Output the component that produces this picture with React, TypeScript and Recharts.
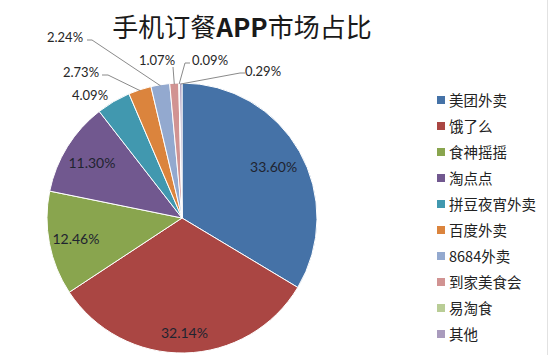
import React from 'react';
import { PieChart, Pie, Cell, Legend } from 'recharts';

const categories = ['美团外卖', '饿了么', '食神摇摇', '淘点点', '拼豆夜宵外卖', '百度外卖', '8684外卖', '到家美食会', '易淘食', '其他'];
const shares = [33.6, 32.14, 12.46, 11.3, 4.09, 2.73, 2.24, 1.07, 0.09, 0.29];
const colors = ['#4572A7', '#AA4643', '#89A54E', '#71588F', '#4198AF', '#DB843D', '#93A9CF', '#D19392', '#B9CD96', '#A99BBD'];

const data = categories.map((name, i) => ({ name, value: shares[i] }));

const RAD = Math.PI / 180;
const FONT = 'Lato, "Noto Sans", sans-serif';
const CJK = '"Noto Sans CJK SC", "Noto Sans", sans-serif';

// layout for labels (offsets relative to pie centre)
const insideRadiusFactor: Record<number, number> = { 0: 0.78, 1: 0.85, 2: 0.8, 3: 0.785 };
const outsideLayout: Record<number, { tx: number; ty: number; line?: number[][] }> = {
  4: { tx: -92, ty: -123 },
  5: { tx: -101, ty: -146, line: [[-80, -143], [-74, -143]] },
  6: { tx: -117, ty: -181, line: [[-95, -178], [-90, -178]] },
  7: { tx: -25, ty: -158, line: [[-9, -151]] },
  8: { tx: 28, ty: -158, line: [[8, -155], [3, -155]] },
  9: { tx: 81, ty: -147, line: [[63, -145], [58, -145]] },
};

const renderLabel = (props: any) => {
  const { cx, cy, midAngle, outerRadius, index, value } = props;
  const text = `${Number(value).toFixed(2)}%`;
  if (insideRadiusFactor[index] !== undefined) {
    const r = outerRadius * insideRadiusFactor[index];
    const x = cx + r * Math.cos(-midAngle * RAD);
    const y = cy + r * Math.sin(-midAngle * RAD);
    return (
      <text key={`l${index}`} x={x} y={y} textAnchor="middle" dominantBaseline="central" fill="#1f2430" fontSize={14} fontFamily={FONT}>
        {text}
      </text>
    );
  }
  const lay = outsideLayout[index];
  if (!lay) return null;
  const ex = cx + (outerRadius - 1) * Math.cos(-midAngle * RAD);
  const ey = cy + (outerRadius - 1) * Math.sin(-midAngle * RAD);
  let pts = '';
  if (lay.line) {
    pts = lay.line.map(([dx, dy]) => `${cx + dx},${cy + dy}`).join(' ') + ` ${ex},${ey}`;
  }
  return (
    <g key={`l${index}`}>
      {lay.line && <polyline points={pts} fill="none" stroke="#8a8a8a" strokeWidth={1} />}
      <text x={cx + lay.tx} y={cy + lay.ty} textAnchor="middle" dominantBaseline="central" fill="#262626" fontSize={13} fontFamily={FONT}>
        {text}
      </text>
    </g>
  );
};

const renderLegend = () => (
  <ul style={{ listStyle: 'none', margin: 0, padding: 0 }}>
    {categories.map((name, i) => (
      <li key={name} style={{ height: 26, display: 'flex', alignItems: 'center' }}>
        <span style={{ display: 'inline-block', width: 8, height: 8, background: colors[i], marginRight: 4 }} />
        <span style={{ fontFamily: CJK, fontSize: 14.5, color: '#222', lineHeight: '26px' }}>{name}</span>
      </li>
    ))}
  </ul>
);

export default function App() {
  return (
    <div style={{ position: 'absolute', left: 0, top: 0, width: 550, height: 355, background: '#fff', overflow: 'hidden' }}>
      <div
        style={{
          position: 'absolute',
          left: 0,
          width: 484,
          top: 8,
          textAlign: 'center',
          fontFamily: CJK,
          fontSize: 26,
          lineHeight: '36px',
          color: '#1a1a1a',
        }}
      >
        手机订餐<span style={{ fontWeight: 700 }}>APP</span>市场占比
      </div>
      <PieChart width={550} height={355} margin={{ top: 0, right: 0, bottom: 0, left: 0 }}>
        <Pie
          data={data}
          dataKey="value"
          nameKey="name"
          cx={182}
          cy={218}
          outerRadius={135}
          startAngle={90}
          endAngle={-270}
          stroke="#ffffff"
          strokeWidth={1}
          label={renderLabel}
          labelLine={false}
          isAnimationActive={false}
        >
          {data.map((d, i) => (
            <Cell key={d.name} fill={colors[i]} />
          ))}
        </Pie>
        <Legend
          layout="vertical"
          verticalAlign="top"
          align="right"
          content={renderLegend}
          wrapperStyle={{ left: 437, top: 87, width: 110 }}
        />
      </PieChart>
      <div style={{ position: 'absolute', left: 547, top: 0, width: 1, height: 355, background: '#e2e2e2' }} />
    </div>
  );
}
